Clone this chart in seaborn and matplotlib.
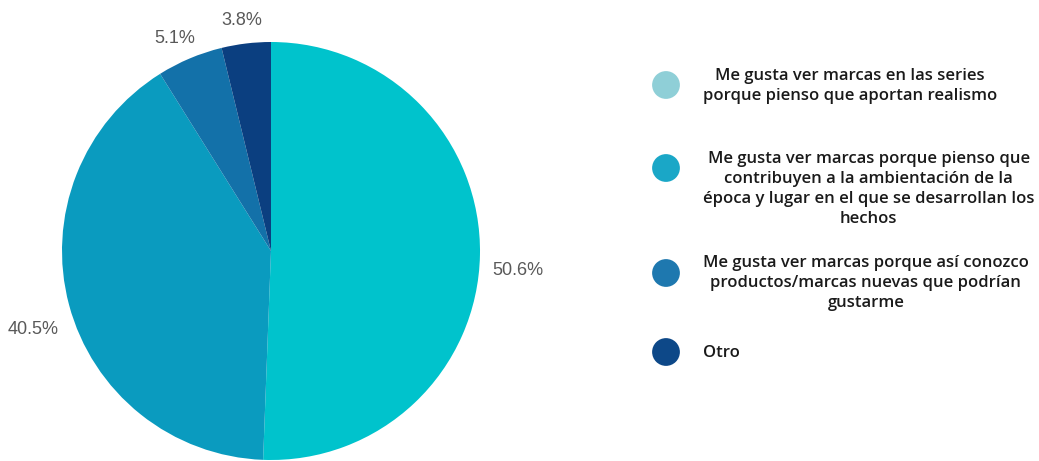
import matplotlib
matplotlib.use("Agg")
import matplotlib.pyplot as plt
import seaborn as sns

# Survey answers and their shares (%)
categories = [
    "Me gusta ver marcas en las series\nporque pienso que aportan realismo",
    "Me gusta ver marcas porque pienso que\ncontribuyen a la ambientación de la\népoca y lugar en el que se desarrollan los\nhechos",
    "Me gusta ver marcas porque así conozco\nproductos/marcas nuevas que podrían\ngustarme",
    "Otro",
]
pie_values = [50.6, 40.5, 5.1, 3.8]
slice_colors = ["#00C3CC", "#0A9BBF", "#1371A9", "#0B3F80"]
legend_colors = ["#8FCFD7", "#1AA7C7", "#1E78AF", "#0D4888"]

sns.set_theme(style="white")
plt.rcParams["font.family"] = ["Open Sans", "DejaVu Sans"]

W, H = 1039, 461
fig = plt.figure(figsize=(W / 100, H / 100), dpi=100)

# Pie axes: centre (271, 251) px, radius 209 px
cx, cy, r = 271, 251, 209
ax = fig.add_axes([(cx - r) / W, (H - cy - r) / H, 2 * r / W, 2 * r / H])
wedges, _, autotexts = ax.pie(
    pie_values,
    colors=sns.color_palette(slice_colors),
    startangle=90,
    counterclock=False,
    autopct="%1.1f%%",
    pctdistance=1.18,
    radius=1.0,
    wedgeprops=dict(linewidth=0),
    textprops=dict(color="#595959", fontsize=13, family=["Liberation Sans", "DejaVu Sans"]),
)
# percentage labels sit slightly below their radial anchor
for t in autotexts:
    x, y = t.get_position()
    t.set_position((x, y - 0.07))
ax.set_xlim(-1, 1)
ax.set_ylim(-1, 1)
ax.set_aspect("equal")
ax.axis("off")

# Legend drawn in pixel coordinates
lax = fig.add_axes([0, 0, 1, 1])
lax.set_xlim(0, W)
lax.set_ylim(H, 0)
lax.axis("off")
legend_y = [85, 168, 273, 352]
text_y = [86, 189, 283, 353]
lax.scatter([666] * 4, legend_y, s=400, c=legend_colors, linewidths=0, clip_on=False)
for label, ty in zip(categories, text_y):
    lax.text(703, ty, label, ha="left", va="center", multialignment="center",
             fontsize=12, fontweight="semibold", color="#1a1a1a", linespacing=1.34)

fig.savefig("out.png", dpi=100, facecolor="white")
